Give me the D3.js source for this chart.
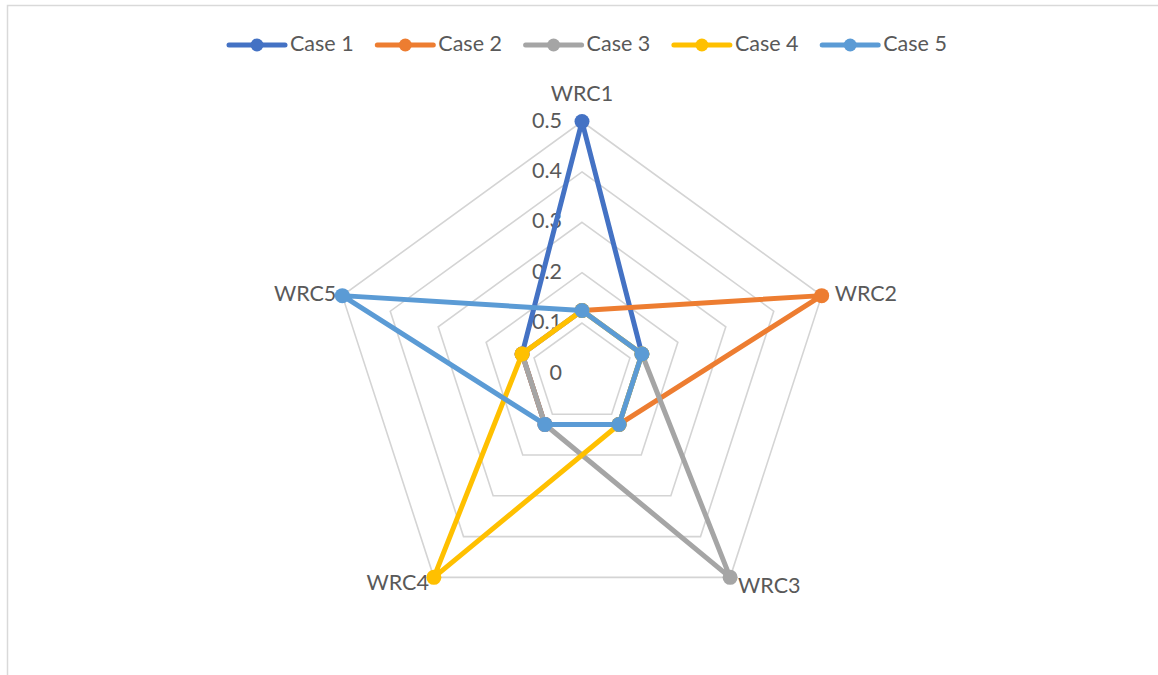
<!DOCTYPE html>
<html>
<head>
<meta charset="utf-8">
<script src="https://cdn.jsdelivr.net/npm/d3@7"></script>
<style>
  html, body { margin: 0; padding: 0; background: #fff; }
  svg { display: block; }
  text { font-family: Lato, "Noto Sans", sans-serif; fill: #595959; }
</style>
</head>
<body>
<svg id="chart" width="1158" height="675"></svg>
<script>
// Radar axes, series and value-axis ticks
const axes = ["WRC1", "WRC2", "WRC3", "WRC4", "WRC5"];
const seriesNames = ["Case 1", "Case 2", "Case 3", "Case 4", "Case 5"];
const case1 = [0.5, 0.125, 0.125, 0.125, 0.125];
const case2 = [0.125, 0.5, 0.125, 0.125, 0.125];
const case3 = [0.125, 0.125, 0.5, 0.125, 0.125];
const case4 = [0.125, 0.125, 0.125, 0.5, 0.125];
const case5 = [0.125, 0.125, 0.125, 0.125, 0.5];
const tickValues = [0, 0.1, 0.2, 0.3, 0.4, 0.5];
const tickLabels = ["0", "0.1", "0.2", "0.3", "0.4", "0.5"];
const colors = ["#4472C4", "#ED7D31", "#A5A5A5", "#FFC000", "#5B9BD5"];

const series = seriesNames.map((name, i) => ({
  name, color: colors[i], values: [case1, case2, case3, case4, case5][i]
}));

const svg = d3.select("#chart");
const W = 1158, H = 675;
const FS = 21.5;

// chart area frame
svg.append("rect")
  .attr("x", 7.5).attr("y", 5.5)
  .attr("width", W + 40).attr("height", H + 40)
  .attr("fill", "none").attr("stroke", "#d9d9d9").attr("stroke-width", 1.5);

const cx = 582, cy = 373.5;
const r = d3.scaleLinear().domain([0, 0.5]).range([0, 252]);
const angle = d3.scalePoint().domain(axes).range([0, 2 * Math.PI * (axes.length - 1) / axes.length]);
const pt = (axis, v) => {
  const a = angle(axis) - Math.PI / 2;
  return [cx + r(v) * Math.cos(a), cy + r(v) * Math.sin(a)];
};

// concentric pentagon gridlines
const grid = svg.append("g");
tickValues.filter(t => t > 0).forEach(t => {
  grid.append("path")
    .attr("d", d3.line()(axes.map(a => pt(a, t))) + "Z")
    .attr("fill", "none").attr("stroke", "#d4d4d4").attr("stroke-width", 1.6);
});

// value-axis tick labels along the first spoke
svg.append("g").selectAll("text")
  .data(tickValues)
  .join("text")
  .attr("x", cx - 20)
  .attr("y", d => cy - r(d) - 2)
  .attr("text-anchor", "end")
  .attr("dominant-baseline", "central")
  .attr("font-size", FS)
  .text((d, i) => tickLabels[i]);

// category labels at the outer ring
const labelPos = {
  WRC1: { dx: 0, dy: -29, anchor: "middle" },
  WRC2: { dx: 13, dy: -3, anchor: "start" },
  WRC3: { dx: 8, dy: 8, anchor: "start" },
  WRC4: { dx: -5, dy: 5, anchor: "end" },
  WRC5: { dx: -6, dy: -3, anchor: "end" }
};
svg.append("g").selectAll("text")
  .data(axes)
  .join("text")
  .attr("x", d => pt(d, 0.5)[0] + labelPos[d].dx)
  .attr("y", d => pt(d, 0.5)[1] + labelPos[d].dy)
  .attr("text-anchor", d => labelPos[d].anchor)
  .attr("dominant-baseline", "central")
  .attr("font-size", FS)
  .text(d => d);

// data series: closed outline plus markers, drawn in series order
const lineGen = d3.line();
series.forEach(s => {
  const g = svg.append("g");
  const pts = axes.map((a, i) => pt(a, s.values[i]));
  g.append("path")
    .attr("d", lineGen(pts) + "Z")
    .attr("fill", "none")
    .attr("stroke", s.color)
    .attr("stroke-width", 5)
    .attr("stroke-linejoin", "round");
  g.selectAll("circle")
    .data(pts)
    .join("circle")
    .attr("cx", d => d[0]).attr("cy", d => d[1])
    .attr("r", 7.5)
    .attr("fill", s.color);
});

// legend
const legend = svg.append("g").attr("transform", "translate(229,45)");
series.forEach((s, i) => {
  const g = legend.append("g").attr("transform", `translate(${i * 148.3},0)`);
  g.append("line")
    .attr("x1", 0).attr("x2", 56)
    .attr("y1", 0).attr("y2", 0)
    .attr("stroke", s.color).attr("stroke-width", 5)
    .attr("stroke-linecap", "round");
  g.append("circle").attr("cx", 28).attr("cy", 0).attr("r", 6.5).attr("fill", s.color);
  g.append("text")
    .attr("x", 61).attr("y", -2)
    .attr("dominant-baseline", "central")
    .attr("font-size", FS)
    .text(s.name);
});
</script>
</body>
</html>
